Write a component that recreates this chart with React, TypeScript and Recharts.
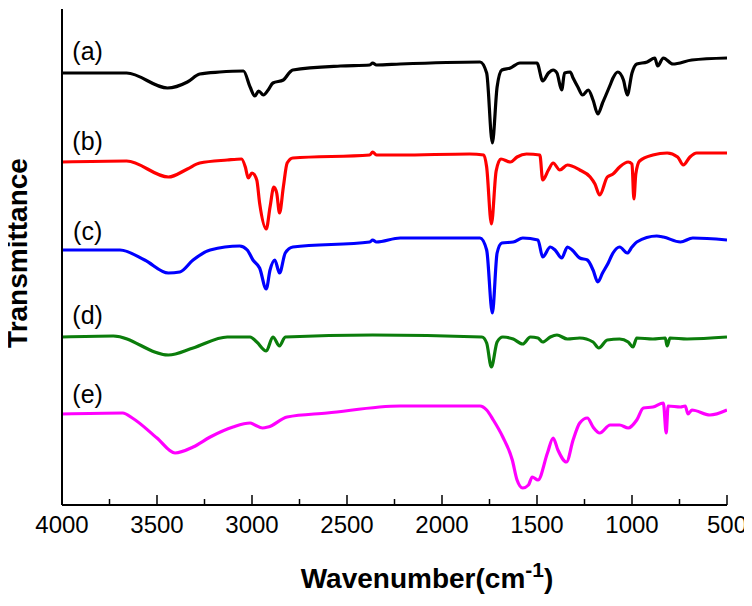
import { LineChart, Line, XAxis, YAxis, ReferenceDot, Label } from "recharts";

// FTIR spectra, transmittance in arbitrary units (curves are stacked)
const wavenumberTicks = [4000, 3750, 3500, 3250, 3000, 2750, 2500, 2250, 2000, 1750, 1500, 1250, 1000, 750, 500];

const curveA: [number, number][] = [
  [4000, 432], [3660, 432], [3445, 417], [3340, 423], [3275, 431], [3170, 433], [3045, 434],
  [3010, 418], [2985, 409], [2965, 414], [2940, 410], [2915, 415], [2890, 422], [2835, 425],
  [2800, 433], [2785, 435], [2535, 439], [2380, 440], [2365, 442], [2345, 440], [2220, 441],
  [1800, 443], [1765, 432], [1735, 362], [1710, 418], [1685, 435], [1640, 437], [1590, 442],
  [1500, 442], [1470, 424], [1440, 432], [1415, 435], [1395, 432], [1370, 415], [1355, 432],
  [1325, 433], [1310, 427], [1285, 418], [1260, 410], [1230, 415], [1205, 405], [1180, 391],
  [1155, 402], [1115, 420], [1100, 427], [1075, 433], [1045, 425], [1025, 410], [1000, 432],
  [975, 441], [920, 443], [880, 447], [865, 439], [835, 447], [785, 441], [685, 445], [500, 447],
];

const curveB: [number, number][] = [
  [4000, 343], [3660, 344], [3440, 328], [3340, 336], [3275, 342], [3130, 345], [3055, 346],
  [3035, 338], [3020, 327], [3000, 332], [2975, 325], [2960, 302], [2925, 276], [2905, 298],
  [2885, 318], [2870, 312], [2855, 292], [2835, 318], [2815, 342], [2785, 347], [2380, 350],
  [2365, 353], [2345, 350], [2220, 350], [1855, 351], [1780, 350], [1765, 338], [1740, 281],
  [1715, 334], [1690, 346], [1640, 343], [1605, 348], [1555, 351], [1485, 350], [1470, 325],
  [1440, 335], [1415, 342], [1380, 335], [1340, 340], [1275, 335], [1220, 328], [1195, 321],
  [1170, 310], [1130, 328], [1100, 331], [1065, 338], [1020, 343], [1000, 341], [990, 306],
  [980, 331], [960, 344], [890, 350], [815, 352], [760, 348], [730, 340], [695, 348], [660, 352],
  [500, 352],
];

const curveC: [number, number][] = [
  [4000, 255], [3695, 255], [3565, 245], [3440, 232], [3380, 233], [3310, 245], [3220, 255],
  [3065, 259], [3025, 255], [2995, 245], [2960, 237], [2925, 216], [2905, 235], [2880, 245],
  [2855, 232], [2825, 252], [2785, 258], [2380, 263], [2365, 265], [2345, 263], [2220, 267],
  [1800, 267], [1765, 255], [1735, 192], [1710, 252], [1685, 262], [1625, 263], [1575, 267],
  [1495, 265], [1470, 248], [1430, 258], [1405, 255], [1370, 247], [1340, 258], [1315, 255],
  [1275, 247], [1235, 245], [1205, 235], [1180, 223], [1155, 232], [1125, 242], [1100, 252],
  [1065, 258], [1025, 252], [1000, 258], [975, 263], [870, 269], [835, 268], [745, 263],
  [680, 267], [500, 265],
];

const curveD: [number, number][] = [
  [4000, 168], [3730, 169], [3440, 150], [3310, 157], [3130, 168], [3010, 168], [2975, 163],
  [2925, 154], [2890, 168], [2855, 159], [2825, 168], [2365, 170], [1790, 168], [1765, 162],
  [1740, 138], [1710, 163], [1680, 168], [1625, 166], [1575, 161], [1535, 168], [1495, 167],
  [1470, 163], [1430, 168], [1395, 170], [1340, 166], [1275, 167], [1205, 163], [1175, 157],
  [1130, 165], [1065, 166], [1020, 163], [995, 158], [975, 167], [890, 166], [825, 167],
  [815, 159], [800, 167], [710, 166], [500, 168],
];

const curveE: [number, number][] = [
  [4000, 91], [3680, 92], [3630, 87], [3500, 67], [3405, 52], [3310, 58], [3220, 68], [3100, 78],
  [3010, 82], [2985, 80], [2945, 77], [2915, 78], [2815, 88], [2605, 92], [2220, 99], [1975, 99],
  [1800, 99], [1765, 95], [1730, 85], [1680, 68], [1630, 45], [1605, 25], [1575, 17], [1545, 20],
  [1525, 28], [1495, 25], [1445, 52], [1415, 67], [1390, 55], [1345, 43], [1310, 65], [1275, 82],
  [1235, 87], [1205, 78], [1170, 72], [1115, 80], [1065, 80], [1020, 77], [975, 85], [940, 97],
  [890, 98], [835, 102], [820, 72], [810, 99], [745, 98], [720, 99], [705, 91], [685, 95],
  [590, 90], [500, 95],
];

const curveNames = ["(a)", "(b)", "(c)", "(d)", "(e)"];
const curveColors = ["#000000", "#ff0000", "#0000ff", "#0b7d0b", "#ff00ff"];
const curvePoints = [curveA, curveB, curveC, curveD, curveE];
const nameAnchorX = 3865;
const nameAnchorY = [454, 364, 274, 190, 111];

const FONT = "'Liberation Sans', Arial, Helvetica, sans-serif";

const WaveTick = (props: any) => {
  const { x, y, payload } = props;
  const major = payload.value % 500 === 0;
  return (
    <g>
      <line x1={x} x2={x} y1={y} y2={y - (major ? 10 : 6)} stroke="#000" strokeWidth={1.5} />
      {major && (
        <text x={x} y={y + 28} textAnchor="middle" fontSize={24} fontFamily={FONT} fill="#000">
          {payload.value}
        </text>
      )}
    </g>
  );
};

const XTitle = () => (
  <text x={427} y={588} textAnchor="middle" fontSize={28} fontWeight="bold" fontFamily={FONT} fill="#000">
    <tspan>Wavenumber(cm</tspan>
    <tspan dy={-11} fontSize={21}>-1</tspan>
    <tspan dy={11}>)</tspan>
  </text>
);

const YTitle = () => (
  <text
    x={27}
    y={253}
    transform="rotate(-90 27 253)"
    textAnchor="middle"
    fontSize={28}
    fontWeight="bold"
    fontFamily={FONT}
    fill="#000"
  >
    Transmittance
  </text>
);

export default function App() {
  const series = curvePoints.map((pts, i) => ({
    name: curveNames[i],
    color: curveColors[i],
    data: pts.map(([w, t]) => ({ w, t })),
  }));
  const frame = { stroke: "#000", strokeWidth: 2 };

  return (
    <div style={{ width: 752, height: 598, marginLeft: -8, marginTop: -8, background: "#fff" }}>
      <LineChart width={752} height={598} margin={{ top: 9, right: 25, bottom: 0, left: 8 }}>
        <XAxis
          xAxisId="bottom"
          type="number"
          dataKey="w"
          domain={[500, 4000]}
          reversed
          allowDataOverflow
          ticks={wavenumberTicks}
          interval={0}
          tick={WaveTick}
          tickLine={false}
          tickSize={0}
          tickMargin={0}
          height={93}
          axisLine={frame}
        >
          <Label content={XTitle} />
        </XAxis>
        <XAxis
          xAxisId="top"
          orientation="top"
          type="number"
          domain={[500, 4000]}
          reversed
          height={0}
          tick={false}
          tickLine={false}
          axisLine={frame}
        />
        <YAxis
          yAxisId="left"
          type="number"
          domain={[0, 496]}
          width={54}
          tick={false}
          tickLine={false}
          axisLine={frame}
        >
          <Label content={YTitle} />
        </YAxis>
        <YAxis
          yAxisId="right"
          orientation="right"
          type="number"
          domain={[0, 496]}
          width={0}
          tick={false}
          tickLine={false}
          axisLine={frame}
        />
        {series.map((s) => (
          <Line
            key={s.name}
            xAxisId="bottom"
            yAxisId="left"
            data={s.data}
            dataKey="t"
            type="monotoneX"
            stroke={s.color}
            strokeWidth={3.2}
            dot={false}
            isAnimationActive={false}
          />
        ))}
        {series.map((s, i) => (
          <ReferenceDot
            key={"lbl" + s.name}
            xAxisId="bottom"
            yAxisId="left"
            x={nameAnchorX}
            y={nameAnchorY[i]}
            r={0}
            fill="none"
            stroke="none"
            label={{ value: s.name, position: "center", fontSize: 25, fontFamily: FONT, fill: "#000" }}
          />
        ))}
      </LineChart>
    </div>
  );
}
